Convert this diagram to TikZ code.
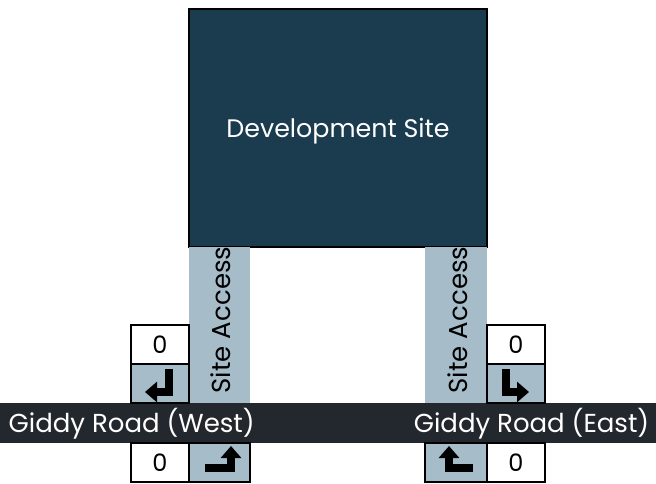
\documentclass[tikz,border=0pt]{standalone}
\usepackage{fontspec}
\setmainfont{Poppins}
\usetikzlibrary{arrows.meta}
\definecolor{sitefill}{HTML}{1B3B4F}
\definecolor{accessfill}{HTML}{A7BCC9}
\definecolor{roadfill}{HTML}{23272E}
\tikzset{
    countbox/.style={draw=black, line width=1.1pt, fill=white, minimum width=43.5pt, minimum height=29.25pt, inner sep=0pt, font=\fontsize{18}{21}\selectfont},
    turnbox/.style={draw=black, line width=1.1pt, fill=accessfill, minimum width=43.5pt, minimum height=29.25pt, inner sep=0pt},
    turn/.style={line width=5.5pt, line join=miter, -{Triangle[width=15pt,length=9pt]}}
}
\begin{document}
\begin{tikzpicture}[x=0.75pt, y=-0.75pt]
    \useasboundingbox (0,0) rectangle (656,484);

    % Site
    \node[draw=black, line width=1.1pt, fill=sitefill, minimum width=223.5pt, minimum height=178.5pt, text=white, font=\fontsize{19}{22}\selectfont] (site) at (338,128) {};
    \node[text=white, font=\fontsize{19}{22}\selectfont] (siteLab) at (338,131) {Development Site};

    % Accesos
    \node[fill=accessfill, minimum width=45.75pt, minimum height=117pt, inner sep=0pt] (accW) at (219.5,325) {};
    \node[fill=accessfill, minimum width=46.5pt, minimum height=117pt, inner sep=0pt] (accE) at (456,325) {};
    \node[rotate=90, font=\fontsize{19.5}{22}\selectfont] (labW) at (221,320) {Site Access};
    \node[rotate=90, font=\fontsize{19.5}{22}\selectfont] (labE) at (458,320) {Site Access};

    % Road
    \node[fill=roadfill, minimum width=492pt, minimum height=30pt, inner sep=0pt] (road) at (328,423) {};
    \node[anchor=west, text=white, font=\fontsize{19.5}{22}\selectfont] (roadW) at (4,424) {Giddy Road (West)};
    \node[anchor=east, text=white, font=\fontsize{19.5}{22}\selectfont] (roadE) at (654,424) {Giddy Road (East)};

    % West
    \node[countbox] (cntWN) at (160,344.5) {0};
    \node[turnbox] (trnWN) at (160,383.5) {};
    \node[countbox] (cntWS) at (160,462.5) {0};
    \node[turnbox, minimum width=45.75pt] (trnWS) at (219.5,462.5) {};
    \draw[turn] (169,369) -- (169,392) -- (145,392);
    \draw[turn] (205,468) -- (231,468) -- (231,446);

    % East
    \node[countbox] (cntEN) at (516,344.5) {0};
    \node[turnbox] (trnEN) at (516,383.5) {};
    \node[turnbox, minimum width=46.5pt] (trnES) at (456,462.5) {};
    \node[countbox] (cntES) at (516,462.5) {0};
    \draw[turn] (506,369) -- (506,392) -- (529,392);
    \draw[turn] (473,468) -- (449,468) -- (449,446);
\end{tikzpicture}
\end{document}
